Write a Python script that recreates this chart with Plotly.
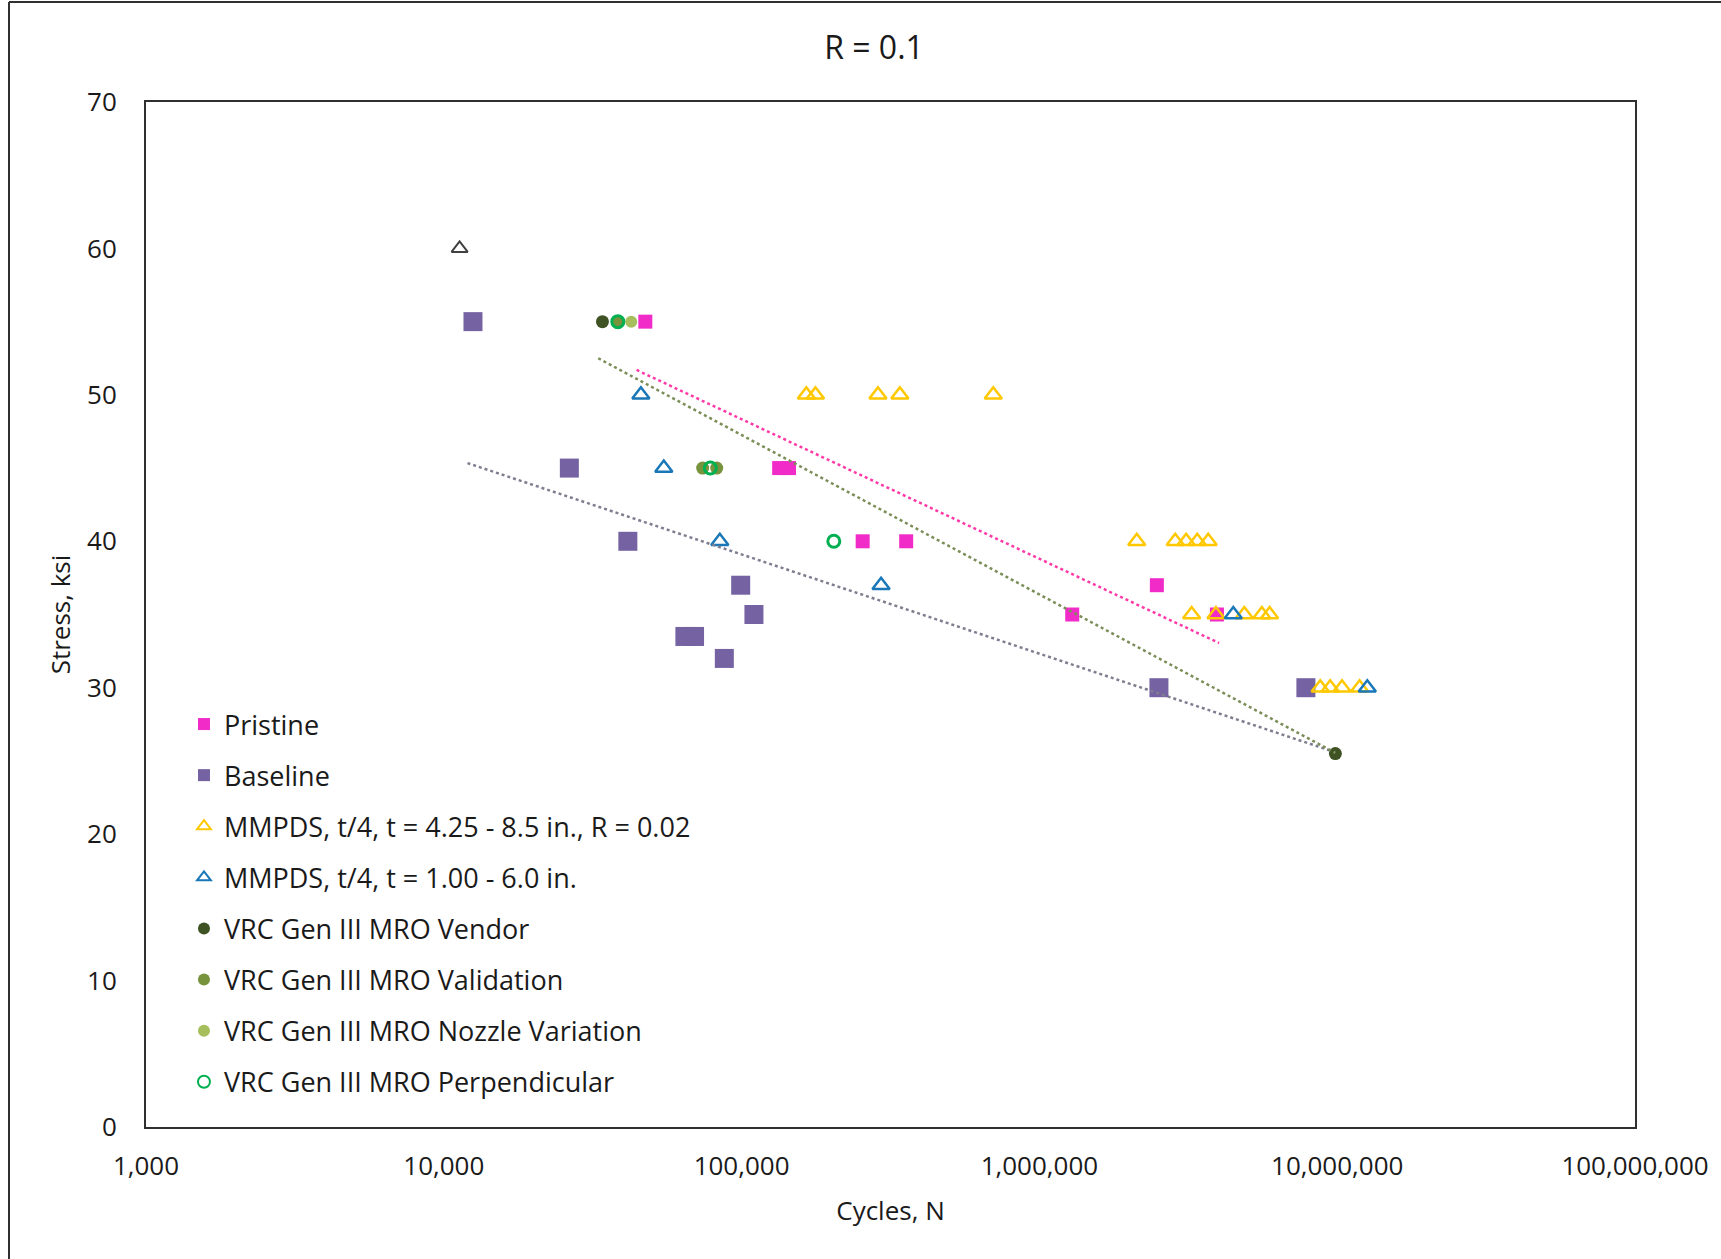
import plotly.graph_objects as go

# ---------------- data ----------------
pristine_N = [47500, 133700, 144300, 255000, 357000, 1289000, 2480000, 3946000]
pristine_S = [55, 45, 45, 40, 40, 35, 37, 35]

baseline_N = [12530, 26400, 41500, 99300, 110000, 64500, 69500, 87500, 2520000, 7850000]
baseline_S = [55, 45, 40, 37, 35, 33.5, 33.5, 32, 30, 30]

mmpds_thick_N = [165000, 177000, 287000, 340000, 700000,
                 2123000, 2858000, 3110000, 3388000, 3688000,
                 3245000, 3915000, 4877000, 5584000, 5929000,
                 8770000, 9470000, 10380000, 11890000]
mmpds_thick_S = [50, 50, 50, 50, 50,
                 40, 40, 40, 40, 40,
                 35, 35, 35, 35, 35,
                 30, 30, 30, 30]

mmpds_thin_N = [45900, 54800, 84500, 294000, 4478000, 12620000]
mmpds_thin_S = [50, 45, 40, 37, 35, 30]

extra_N = [11300]
extra_S = [60]

vendor_N = [34100, 9860000]
vendor_S = [55, 25.5]

validation_N = [38400, 74000, 82500]
validation_S = [55, 45, 45]

nozzle_N = [42600]
nozzle_S = [55]

perp_N = [38400, 78500, 204000]
perp_S = [55, 45, 40]

# trend line end points (logarithmic trendlines -> straight on log-x axis)
trend_pristine_N = [44400, 4013000]
trend_pristine_S = [51.7, 33.05]
trend_vrc_N = [33000, 9860000]
trend_vrc_S = [52.5, 25.55]
trend_base_N = [12010, 9500000]
trend_base_S = [45.34, 25.7]

x_tickvals = [1e3, 1e4, 1e5, 1e6, 1e7, 1e8]
x_ticktext = ["1,000", "10,000", "100,000", "1,000,000", "10,000,000", "100,000,000"]
y_tickvals = [0, 10, 20, 30, 40, 50, 60, 70]

FONT = "Open Sans"

fig = go.Figure()

def add_markers(name, xs, ys, symbol, color, size, lw=0, lcolor=None, group=None, show=True):
    fig.add_trace(go.Scatter(
        x=xs, y=ys, mode="markers", name=name,
        legendgroup=group or name, showlegend=show,
        marker=dict(symbol=symbol, color=color, size=size,
                    line=dict(width=lw, color=lcolor or color)),
    ))

add_markers("Pristine", pristine_N, pristine_S, "square", "#F02BC8", 14)
add_markers("Baseline", baseline_N, baseline_S, "square", "#7462A2", 19)
add_markers("MMPDS, t/4, t = 4.25 - 8.5 in., R = 0.02", mmpds_thick_N, mmpds_thick_S,
            "triangle-up-open", "#FFC800", 15, lw=2.5)
add_markers("MMPDS, t/4, t = 1.00 - 6.0 in.", mmpds_thin_N, mmpds_thin_S,
            "triangle-up-open", "#1A78B8", 15, lw=2.5)
add_markers("VRC Gen III MRO Vendor", vendor_N, vendor_S, "circle", "#3E5224", 13)
add_markers("VRC Gen III MRO Validation", validation_N, validation_S, "circle", "#77933C", 13)
add_markers("VRC Gen III MRO Nozzle Variation", nozzle_N, nozzle_S, "circle", "#A6BF5C", 12)
add_markers("VRC Gen III MRO Perpendicular", perp_N, perp_S, "circle-open", "#00B050", 12, lw=3)
add_markers("other", extra_N, extra_S, "triangle-up-open", "#404040", 14, lw=2, show=False)

def add_trend(xs, ys, color):
    fig.add_trace(go.Scatter(
        x=xs, y=ys, mode="lines", showlegend=False, hoverinfo="skip",
        line=dict(color=color, width=2.5, dash="dot"),
    ))

add_trend(trend_base_N, trend_base_S, "#7E7E90")
add_trend(trend_vrc_N, trend_vrc_S, "#7C8E58")
add_trend(trend_pristine_N, trend_pristine_S, "#FF3AA8")

W, H = 1721, 1259
L, R, T, B = 146, 86, 102, 132
PW, PH = W - L - R, H - T - B

fig.update_layout(
    width=W, height=H,
    margin=dict(l=L, r=R, t=T, b=B),
    paper_bgcolor="white", plot_bgcolor="white",
    font=dict(family=FONT, size=26, color="#1A1A1A"),
    title=dict(text="R = 0.1", x=874 / W, xanchor="center", y=1 - 48 / H, yanchor="middle",
               xref="container", yref="container", font=dict(size=32, family=FONT)),
    showlegend=True,
    legend=dict(x=0.0255, y=0.4166, xanchor="left", yanchor="top",
                bgcolor="rgba(0,0,0,0)", borderwidth=0,
                font=dict(size=27, family=FONT),
                traceorder="grouped", tracegroupgap=13, itemsizing="constant"),
    xaxis=dict(type="log", range=[3, 8], tickvals=x_tickvals, ticktext=x_ticktext,
               showgrid=False, zeroline=False, showline=True, mirror=True,
               linecolor="#303030", linewidth=2, ticks="", ticklabelstandoff=15,
               title=dict(text="Cycles, N", standoff=20, font=dict(size=26))),
    yaxis=dict(range=[0, 70], tickvals=y_tickvals, showgrid=False, zeroline=False,
               showline=True, mirror=True, linecolor="#303030", linewidth=2, ticks="",
               ticklabelstandoff=22,
               title=dict(text="Stress, ksi", standoff=9, font=dict(size=26))),
    shapes=[
        dict(type="line", xref="paper", yref="paper", x0=(9 - L) / PW, x1=(9 - L) / PW,
             y0=(H - B - 2) / PH, y1=-B / PH, line=dict(color="#303030", width=2)),
        dict(type="line", xref="paper", yref="paper", x0=(9 - L) / PW, x1=(W - L) / PW,
             y0=(H - B - 2) / PH, y1=(H - B - 2) / PH, line=dict(color="#303030", width=2)),
    ],
)

fig.write_html("out.html", config={"displayModeBar": False},
               post_script="document.body.style.margin='0px';")
